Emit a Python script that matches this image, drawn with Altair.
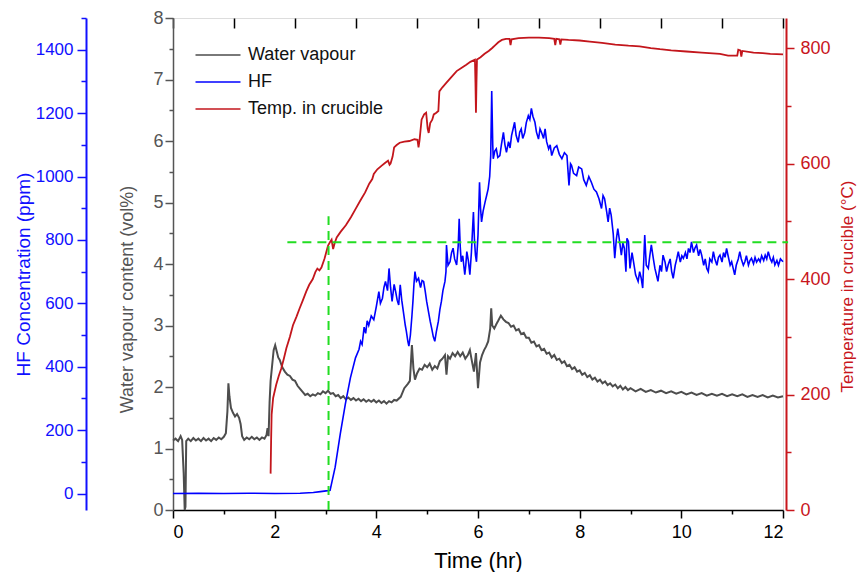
import altair as alt
import pandas as pd

FONT = "Liberation Sans"

# ---------------- data ----------------
water_t = [0.00, 0.05, 0.10, 0.15, 0.18, 0.21, 0.23, 0.245, 0.26, 0.30, 0.35, 0.40, 0.45, 0.50, 0.55,
           0.60, 0.65, 0.70, 0.75, 0.80, 0.85, 0.90, 0.95, 1.00, 1.04, 1.07, 1.09, 1.11, 1.14, 1.18,
           1.22, 1.26, 1.30, 1.33, 1.36, 1.40, 1.45, 1.50, 1.55, 1.60, 1.65, 1.70, 1.75, 1.80, 1.84,
           1.86, 1.88, 1.90, 1.92, 1.95, 1.98, 2.01, 2.04, 2.07, 2.10, 2.15, 2.20, 2.25, 2.30, 2.35,
           2.40, 2.45, 2.50, 2.55, 2.60, 2.65, 2.70, 2.75, 2.80, 2.85, 2.90, 2.95, 3.00, 3.05, 3.10,
           3.15, 3.20, 3.25, 3.30, 3.35, 3.40, 3.45, 3.50, 3.55, 3.60, 3.65, 3.70, 3.75, 3.80, 3.85,
           3.90, 3.95, 4.00, 4.05, 4.10, 4.15, 4.20, 4.25, 4.30, 4.35, 4.40, 4.48, 4.55, 4.62, 4.66,
           4.70, 4.73, 4.76, 4.80, 4.85, 4.90, 4.95, 5.00, 5.05, 5.10, 5.15, 5.20, 5.25, 5.30, 5.35,
           5.38, 5.41, 5.45, 5.50, 5.55, 5.60, 5.65, 5.70, 5.75, 5.80, 5.84, 5.88, 5.92, 5.96, 6.00,
           6.04, 6.08, 6.12, 6.16, 6.20, 6.24, 6.26, 6.28, 6.32, 6.36, 6.40, 6.45, 6.50, 6.55, 6.60,
           6.65, 6.70, 6.75, 6.80, 6.85, 6.90, 6.95, 7.00, 7.05, 7.10, 7.15, 7.20, 7.25, 7.30, 7.35,
           7.40, 7.45, 7.50, 7.55, 7.60, 7.65, 7.70, 7.75, 7.80, 7.85, 7.90, 7.95, 8.00, 8.05, 8.10,
           8.15, 8.20, 8.25, 8.30, 8.35, 8.40, 8.45, 8.50, 8.55, 8.60, 8.65, 8.70, 8.75, 8.80, 8.85,
           8.90, 8.95, 9.00, 9.10, 9.20, 9.30, 9.40, 9.50, 9.60, 9.70, 9.80, 9.90, 10.0, 10.1, 10.2,
           10.3, 10.4, 10.5, 10.6, 10.7, 10.8, 10.9, 11.0, 11.1, 11.2, 11.3, 11.4, 11.5, 11.6, 11.7,
           11.8, 11.9, 12.0]
water_v = [1.13, 1.16, 1.12, 1.20, 1.14, 0.60, 0.00, 0.05, 1.12, 1.16, 1.12, 1.17, 1.13, 1.16, 1.12,
           1.17, 1.13, 1.16, 1.12, 1.17, 1.14, 1.18, 1.15, 1.19, 1.25, 1.60, 2.06, 1.85, 1.66, 1.58,
           1.52, 1.56, 1.50, 1.40, 1.20, 1.14, 1.18, 1.15, 1.19, 1.15, 1.18, 1.14, 1.18, 1.16, 1.22,
           1.33, 1.20, 1.75, 2.10, 2.35, 2.60, 2.68, 2.58, 2.48, 2.44, 2.32, 2.25, 2.20, 2.18, 2.12,
           2.10, 2.02, 1.97, 1.92, 1.87, 1.89, 1.85, 1.88, 1.86, 1.90, 1.88, 1.93, 1.90, 1.94, 1.89,
           1.90, 1.85, 1.87, 1.82, 1.85, 1.80, 1.83, 1.79, 1.82, 1.78, 1.81, 1.77, 1.80, 1.76, 1.79,
           1.76, 1.79, 1.75, 1.78, 1.74, 1.77, 1.73, 1.77, 1.75, 1.79, 1.78, 1.84, 1.98, 2.05, 2.10,
           2.68, 2.30, 2.12, 2.22, 2.30, 2.28, 2.36, 2.32, 2.38, 2.28, 2.34, 2.30, 2.42, 2.46, 2.52,
           2.20, 2.50, 2.46, 2.55, 2.50, 2.57, 2.50, 2.56, 2.46, 2.52, 2.60, 2.42, 2.25, 2.55, 1.98,
           2.40, 2.52, 2.60, 2.66, 2.74, 2.95, 3.28, 3.00, 2.95, 3.02, 3.08, 3.16, 3.10, 3.06, 3.04,
           2.98, 3.00, 2.92, 2.94, 2.86, 2.88, 2.80, 2.80, 2.72, 2.74, 2.66, 2.68, 2.60, 2.62, 2.54,
           2.56, 2.48, 2.52, 2.44, 2.46, 2.39, 2.42, 2.34, 2.36, 2.29, 2.32, 2.25, 2.27, 2.20, 2.23,
           2.16, 2.19, 2.12, 2.15, 2.09, 2.12, 2.06, 2.09, 2.03, 2.06, 2.01, 2.04, 1.98, 2.02, 1.96,
           2.00, 1.95, 1.98, 1.93, 1.97, 1.92, 1.95, 1.91, 1.94, 1.90, 1.93, 1.89, 1.92, 1.88, 1.91,
           1.87, 1.90, 1.86, 1.89, 1.86, 1.89, 1.85, 1.88, 1.85, 1.88, 1.84, 1.87, 1.84, 1.87, 1.83,
           1.86, 1.83, 1.85]

hf_t = [0.0, 0.5, 1.0, 1.5, 2.0, 2.5, 2.76, 2.9, 3.05, 3.09, 3.19, 3.29, 3.39, 3.49, 3.59, 3.66, 3.69,
        3.72, 3.76, 3.79, 3.82, 3.85, 3.90, 3.95, 4.00, 4.05, 4.08, 4.12, 4.15, 4.18, 4.22, 4.25, 4.28,
        4.31, 4.35, 4.38, 4.41, 4.44, 4.47, 4.50, 4.54, 4.57, 4.59, 4.62, 4.64, 4.67, 4.70, 4.72, 4.74,
        4.76, 4.79, 4.83, 4.87, 4.90, 4.93, 4.96, 4.99, 5.03, 5.06, 5.09, 5.12, 5.15, 5.18, 5.22, 5.25,
        5.28, 5.31, 5.35, 5.37, 5.38, 5.41, 5.45, 5.48, 5.51, 5.54, 5.58, 5.61, 5.63, 5.65, 5.67, 5.70,
        5.74, 5.76, 5.78, 5.81, 5.84, 5.87, 5.91, 5.93, 5.95, 5.97, 6.00, 6.03, 6.05, 6.07, 6.10, 6.14,
        6.17, 6.20, 6.23, 6.25, 6.27, 6.29, 6.30, 6.33, 6.36, 6.39, 6.43, 6.46, 6.50, 6.53, 6.56, 6.60,
        6.63, 6.66, 6.69, 6.72, 6.75, 6.79, 6.82, 6.85, 6.88, 6.92, 6.95, 6.99, 7.02, 7.05, 7.08, 7.12,
        7.15, 7.19, 7.22, 7.25, 7.29, 7.32, 7.35, 7.39, 7.42, 7.45, 7.50, 7.55, 7.60, 7.65, 7.70, 7.75,
        7.79, 7.82, 7.84, 7.88, 7.94, 7.98, 8.04, 8.08, 8.13, 8.18, 8.23, 8.28, 8.33, 8.38, 8.43, 8.46,
        8.49, 8.53, 8.56, 8.59, 8.62, 8.66, 8.69, 8.72, 8.75, 8.79, 8.82, 8.85, 8.88, 8.91, 8.93, 8.96,
        8.99, 9.03, 9.06, 9.10, 9.15, 9.18, 9.21, 9.24, 9.28, 9.31, 9.35, 9.38, 9.41, 9.45, 9.48, 9.51,
        9.54, 9.58, 9.61, 9.64, 9.68, 9.71, 9.74, 9.78, 9.81, 9.84, 9.88, 9.91, 9.94, 9.98, 10.01, 10.04,
        10.08, 10.11, 10.14, 10.17, 10.20, 10.24, 10.27, 10.30, 10.34, 10.37, 10.40, 10.44, 10.47, 10.50,
        10.53, 10.56, 10.60, 10.63, 10.66, 10.70, 10.73, 10.76, 10.80, 10.83, 10.86, 10.89, 10.92, 10.96,
        10.99, 11.02, 11.05, 11.08, 11.12, 11.15, 11.18, 11.22, 11.25, 11.28, 11.32, 11.35, 11.38, 11.42,
        11.45, 11.48, 11.52, 11.55, 11.58, 11.62, 11.65, 11.68, 11.71, 11.75, 11.78, 11.81, 11.84, 11.88,
        11.91, 11.95, 12.0]
hf_v = [0, 1, 0, 1, 0, 1, 3, 6, 9, 10, 83, 187, 282, 365, 428, 455, 480,
        470, 525, 505, 545, 530, 560, 548, 590, 637, 600, 616, 650, 669, 640, 710, 650,
        606, 660, 637, 610, 595, 658, 610, 564, 530, 512, 480, 465, 500, 560, 606, 660,
        700, 670, 679, 650, 672, 669, 640, 606, 570, 543, 520, 495, 480, 510, 543, 580,
        606, 640, 669, 700, 784, 720, 731, 760, 774, 740, 721, 780, 867, 780, 731, 750,
        690, 720, 763, 735, 690, 760, 888, 800, 752, 731, 815, 982, 900, 857, 890, 920,
        940, 961, 1000, 1066, 1270, 1100, 1056, 1080, 1087, 1060, 1066, 1100, 1139, 1100, 1076, 1110,
        1090, 1129, 1150, 1171, 1130, 1108, 1140, 1150, 1120, 1139, 1170, 1192, 1180, 1215, 1190, 1171,
        1140, 1118, 1150, 1139, 1120, 1150, 1110, 1087, 1100, 1066, 1090, 1097, 1070, 1056, 1075, 1066,
        972, 1040, 1035, 1010, 1003, 1030, 1024, 990, 972, 1000, 982, 960, 951, 930, 899, 940,
        930, 890, 857, 900, 878, 820, 742, 800, 836, 790, 752, 790, 773, 700, 805, 794,
        710, 760, 731, 690, 669, 700, 680, 648, 815, 720, 710, 750, 784, 740, 710, 690,
        669, 720, 700, 752, 730, 700, 721, 740, 700, 679, 720, 740, 763, 730, 750, 742,
        760, 740, 773, 760, 794, 760, 775, 784, 750, 770, 752, 720, 740, 710,
        700, 740, 730, 763, 740, 720, 745, 752, 730, 760, 745, 773, 750, 720,
        731, 710, 690, 720, 740, 763, 740, 720, 731, 750, 720, 735, 742, 725,
        745, 730, 740, 731, 750, 735, 752, 740, 763, 740, 730, 745, 721, 735,
        720, 740, 731]

temp_t = [1.92, 1.93, 1.94, 1.97, 2.03, 2.08, 2.13, 2.18, 2.23, 2.30, 2.36, 2.43, 2.49, 2.55, 2.62,
          2.68, 2.75, 2.80, 2.84, 2.88, 2.92, 2.98, 3.02, 3.05, 3.09, 3.12, 3.15, 3.18, 3.22, 3.30,
          3.40, 3.50, 3.59, 3.68, 3.78, 3.86, 3.92, 3.95, 4.02, 4.10, 4.17, 4.23, 4.26, 4.28, 4.32,
          4.35, 4.40, 4.46, 4.55, 4.65, 4.75, 4.81, 4.83, 4.85, 4.89, 4.94, 4.98, 5.01, 5.03, 5.06,
          5.10, 5.13, 5.18, 5.22, 5.24, 5.30, 5.38, 5.48, 5.58, 5.68, 5.77, 5.85, 5.94, 5.95, 5.96,
          5.97, 5.98, 6.05, 6.13, 6.21, 6.28, 6.34, 6.40, 6.47, 6.55, 6.62, 6.64, 6.66, 6.80, 7.00,
          7.20, 7.40, 7.50, 7.52, 7.54, 7.60, 7.62, 7.64, 7.78, 8.00, 8.20, 8.44, 8.70, 8.96, 9.18,
          9.40, 9.58, 9.80, 10.1, 10.4, 10.76, 10.92, 11.0, 11.10, 11.12, 11.16, 11.18, 11.20, 11.42,
          11.60, 11.75, 12.0]
temp_v = [63, 120, 165, 194, 217, 232, 245, 262, 280, 300, 320, 335, 349, 362, 378,
          390, 400, 412, 418, 415, 420, 435, 448, 458, 464, 468, 452, 462, 472, 482,
          493, 507, 521, 535, 550, 565, 573, 582, 590, 596, 601, 605, 598, 600, 612,
          628, 632, 636, 638, 639, 642, 641, 628, 640, 676, 685, 688, 660, 653, 670,
          676, 685, 688, 691, 725, 732, 740, 750, 760, 766, 771, 776, 780, 740, 688,
          740, 780, 784, 790, 795, 800, 805, 810, 814, 816, 816, 805, 815, 817, 818,
          818, 817, 816, 805, 816, 815, 806, 815, 814, 813, 811, 809, 806, 804, 803,
          800, 798, 796, 794, 792, 790, 787, 787, 787, 797, 796, 785, 795, 792,
          791, 790, 789]

# green guide lines (x in hr, y in ppm of HF scale)
guide_x = [2.25, 3.06]
guide_x2 = [12.1, 3.06]
guide_y = [793, -52]
guide_y2 = [793, 875]

series_names = ["Water vapour", "HF", "Temp. in crucible"]
series_colors = ["#4d4d4d", "#0000ff", "#c3161c"]

x_ticks_major = [0, 2, 4, 6, 8, 10, 12]
x_ticks_minor = [1, 3, 5, 7, 9, 11]
x_ticks_top = [0, 1.2, 2.4, 3.6, 4.8, 6.0, 7.2, 8.4, 9.6, 10.8, 12]
w_ticks_major = [0, 1, 2, 3, 4, 5, 6, 7, 8]
w_ticks_minor = [0.5, 1.5, 2.5, 3.5, 4.5, 5.5, 6.5, 7.5]
hf_ticks_major = [0, 200, 400, 600, 800, 1000, 1200, 1400]
hf_ticks_minor = [100, 300, 500, 700, 900, 1100, 1300, 1500]
t_ticks_major = [0, 200, 400, 600, 800]
t_ticks_minor = [100, 300, 500, 700]

WATER_C = "#555555"
HF_C = "#1010ff"
TEMP_C = "#c8161c"

water_df = pd.DataFrame({"t": water_t, "v": water_v, "s": series_names[0]})
hf_df = pd.DataFrame({"t": hf_t, "v": hf_v, "s": series_names[1]})
temp_df = pd.DataFrame({"t": temp_t, "v": temp_v, "s": series_names[2]})
guide_df = pd.DataFrame({"x": guide_x, "x2": guide_x2, "y": guide_y, "y2": guide_y2})

xscale = alt.Scale(domain=[0, 12], nice=False, zero=False)


def color_enc():
    return alt.Color(
        "s:N",
        scale=alt.Scale(domain=series_names, range=series_colors),
        legend=alt.Legend(
            orient="none", legendX=35, legendY=27, title=None,
            symbolType="M-2.5,0H2.5", symbolSize=324, symbolStrokeWidth=1.5,
            labelFontSize=18, labelFont=FONT, labelColor="#111111", labelOffset=20,
            rowPadding=8, padding=0,
        ),
    )


x_major = alt.X("t:Q", scale=xscale, axis=alt.Axis(
    orient="bottom", values=x_ticks_major, tickSize=8, tickWidth=1.5, tickColor="black",
    domainColor="black", domainWidth=1.5, labelFontSize=18, labelFont=FONT, labelColor="black",
    labelPadding=5, grid=False, title="Time (hr)", titleFontSize=22, titleFont=FONT,
    titleFontWeight="normal", titleColor="black", titleY=50, titleBaseline="middle"))

water_line = alt.Chart(water_df).mark_line(strokeWidth=2.0).encode(
    x=x_major,
    y=alt.Y("v:Q", scale=alt.Scale(domain=[0, 8], nice=False), axis=alt.Axis(
        orient="left", values=w_ticks_major, tickSize=8, tickWidth=1.5, tickColor=WATER_C,
        domainColor=WATER_C, domainWidth=1.5, labelFontSize=18, labelFont=FONT,
        labelColor=WATER_C, labelPadding=2, grid=False,
        title="Water vapour content (vol%)", titleFontSize=18, titleFont=FONT,
        titleFontWeight="normal", titleColor=WATER_C, titleAngle=270,
        titleX=-46, titleY=281, titleBaseline="middle")),
    color=color_enc(),
)

water_minor = alt.Chart(water_df).mark_line(strokeOpacity=0).encode(
    x=alt.X("t:Q", scale=xscale, axis=alt.Axis(
        orient="bottom", values=x_ticks_minor, tickSize=4, tickWidth=1.5, tickColor="black",
        labels=False, domain=False, grid=False, title=None)),
    y=alt.Y("v:Q", scale=alt.Scale(domain=[0, 8], nice=False), axis=alt.Axis(
        orient="left", values=w_ticks_minor, tickSize=4, tickWidth=1.5, tickColor=WATER_C,
        labels=False, domain=False, grid=False, title=None)),
)

hf_scale = alt.Scale(domain=[-52, 1500], nice=False, zero=False)

hf_line = alt.Chart(hf_df).mark_line(strokeWidth=1.6).encode(
    x=alt.X("t:Q", scale=xscale, axis=None),
    y=alt.Y("v:Q", scale=hf_scale, axis=alt.Axis(
        orient="left", offset=87, values=hf_ticks_major, format="d", tickSize=9, tickWidth=1.5,
        tickColor=HF_C, domainColor=HF_C, domainWidth=2, labelFontSize=17, labelFont=FONT,
        labelColor=HF_C, labelPadding=4, grid=False,
        title="HF Concentration (ppm)", titleFontSize=19, titleFont=FONT,
        titleFontWeight="normal", titleColor=HF_C, titleAngle=270,
        titleX=-63, titleY=256, titleBaseline="middle")),
    color=color_enc(),
)

hf_minor = alt.Chart(hf_df).mark_line(strokeOpacity=0).encode(
    x=alt.X("t:Q", scale=xscale, axis=alt.Axis(
        orient="top", offset=-10, values=x_ticks_top, tickSize=10, tickWidth=1.5,
        tickColor="black", labels=False, domain=False, grid=False, title=None)),
    y=alt.Y("v:Q", scale=hf_scale, axis=alt.Axis(
        orient="left", offset=87, values=hf_ticks_minor, tickSize=5, tickWidth=1.5,
        tickColor=HF_C, labels=False, domain=False, grid=False, title=None)),
)

temp_scale = alt.Scale(domain=[0, 852], nice=False)

temp_line = alt.Chart(temp_df).mark_line(strokeWidth=1.8).encode(
    x=alt.X("t:Q", scale=xscale, axis=None),
    y=alt.Y("v:Q", scale=temp_scale, axis=alt.Axis(
        orient="right", offset=3, values=t_ticks_major, tickSize=8, tickWidth=1.5,
        tickColor=TEMP_C, domainColor=TEMP_C, domainWidth=2, labelFontSize=18, labelFont=FONT,
        labelColor=TEMP_C, labelPadding=6, grid=False,
        title="Temperature in crucible (°C)", titleFontSize=17, titleFont=FONT,
        titleFontWeight="normal", titleColor=TEMP_C, titleAngle=270,
        titleX=61, titleY=268, titleBaseline="middle")),
    color=color_enc(),
)

temp_minor = alt.Chart(temp_df).mark_line(strokeOpacity=0).encode(
    x=alt.X("t:Q", scale=xscale, axis=None),
    y=alt.Y("v:Q", scale=temp_scale, axis=alt.Axis(
        orient="right", offset=3, values=t_ticks_minor, tickSize=5, tickWidth=1.5,
        tickColor=TEMP_C, labels=False, domain=False, grid=False, title=None)),
)

guides = alt.Chart(guide_df).mark_rule(
    color="#22dd22", strokeWidth=2, strokeDash=[9, 6]
).encode(
    x=alt.X("x:Q", scale=xscale, axis=None),
    x2="x2:Q",
    y=alt.Y("y:Q", scale=hf_scale, axis=None),
    y2="y2:Q",
)

chart = alt.layer(
    water_line, water_minor, hf_line, hf_minor, temp_line, temp_minor, guides
).resolve_scale(
    y="independent"
).resolve_axis(
    x="independent", y="independent"
).properties(
    width=610, height=492,
    autosize=alt.AutoSizeParams(type="none"),
    padding={"left": 165, "top": 10, "right": 76, "bottom": 62},
).configure_view(
    stroke="black", strokeWidth=1.5
).configure(
    font=FONT
)

chart.save("out.html", embed_options={"renderer": "svg", "actions": False})
